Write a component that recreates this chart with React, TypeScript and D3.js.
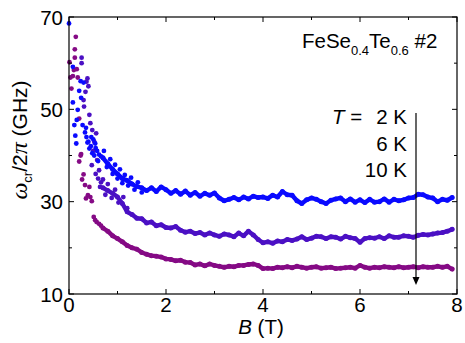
import React from 'react';
import * as d3 from 'd3';

// magnetic field grid (T) for the dense part of each trace
const fields = [
  0.7, 0.8, 0.9, 1.0, 1.1, 1.2, 1.3, 1.4, 1.5, 1.6, 1.7, 1.8, 1.9, 2.0, 2.1, 2.2, 2.3, 2.4, 2.5, 2.6,
  2.7, 2.8, 2.9, 3.0, 3.1, 3.2, 3.3, 3.4, 3.5, 3.6, 3.7, 3.8, 3.9, 4.0, 4.1, 4.2, 4.3, 4.4, 4.5, 4.6,
  4.7, 4.8, 4.9, 5.0, 5.1, 5.2, 5.3, 5.4, 5.5, 5.6, 5.7, 5.8, 5.9, 6.0, 6.1, 6.2, 6.3, 6.4, 6.5, 6.6,
  6.7, 6.8, 6.9, 7.0, 7.1, 7.2, 7.3, 7.4, 7.5, 7.6, 7.7, 7.8, 7.9,
];

// omega_cr / 2pi (GHz)
const t2K = [
  39.5, 38.2, 37.0, 36.0, 35.0, 34.6, 33.8, 33.3, 33.0, 32.4, 33.0, 32.2, 33.2, 32.6, 31.8, 32.4, 31.6, 32.3, 31.4, 32.0,
  31.2, 31.8, 31.4, 31.9, 30.8, 30.2, 30.5, 30.9, 30.4, 31.0, 30.6, 31.2, 30.9, 31.0, 30.7, 31.4, 31.0, 32.2, 31.5, 31.4,
  30.2, 29.6, 30.4, 30.8, 30.5, 30.0, 29.6, 30.3, 30.6, 30.8, 30.0, 30.6, 29.9, 30.4, 29.8, 30.5, 29.9, 30.0, 30.6, 29.9,
  30.5, 30.2, 30.4, 30.8, 30.9, 31.6, 31.5, 31.0, 30.8, 30.0, 30.5, 30.3, 30.9,
];
const t6K = [
  33.0, 32.4, 31.8, 31.0, 29.6, 27.8, 27.2, 26.4, 26.3, 25.4, 25.6, 24.8, 25.0, 24.4, 24.3, 24.6, 23.8, 23.4, 23.6, 23.1,
  23.3, 22.8, 23.2, 22.8, 22.5, 23.0, 22.8, 22.4, 23.2, 22.6, 23.6, 22.8, 21.8, 21.1, 21.3, 21.0, 21.5, 21.3, 21.8, 21.6,
  21.9, 22.4, 21.8, 22.1, 22.5, 22.4, 22.0, 22.4, 22.3, 21.9, 22.5, 22.2, 22.0, 21.2, 22.0, 22.2, 22.1, 22.4, 22.0, 22.6,
  22.3, 22.3, 22.6, 22.5, 22.3, 22.7, 22.9, 22.8, 23.0, 23.2, 23.3, 23.6, 24.0,
];
const t10K = [
  24.3, 23.6, 22.6, 22.0, 21.3, 20.5, 20.0, 19.7, 19.0, 18.6, 18.3, 18.2, 18.0, 17.6, 17.5, 17.2, 17.3, 16.9, 16.8, 16.3,
  16.5, 16.1, 16.5, 16.2, 16.0, 15.8, 16.0, 15.9, 16.2, 16.2, 16.4, 16.5, 16.2, 15.5, 15.6, 15.5, 15.8, 15.7, 15.9, 15.7,
  16.0, 15.8, 15.6, 15.8, 15.9, 15.6, 15.7, 15.8, 15.5, 15.6, 15.7, 15.8, 15.6, 16.2, 15.8, 15.6, 15.8, 15.7, 15.9, 15.8,
  15.7, 15.9, 15.7, 15.8, 15.9, 15.7, 15.9, 15.8, 15.8, 16.0, 15.8, 16.0, 15.4,
];

// scattered low-field points [B, f]
const low2K: [number, number][] = [
  [0.0, 68.6], [0.08, 59.2], [0.24, 56.1], [0.3, 55.8], [0.21, 54.0], [0.25, 52.5], [0.08, 51.5], [0.18, 49.9],
  [0.16, 47.7], [0.11, 46.6], [0.28, 46.6], [0.13, 44.3], [0.15, 42.6], [0.33, 45.0], [0.36, 44.0], [0.4, 43.0],
  [0.45, 42.0], [0.5, 43.5], [0.54, 42.6], [0.42, 41.5], [0.48, 40.5], [0.52, 40.0], [0.58, 41.0], [0.62, 40.2],
  [0.66, 39.8], [0.38, 42.8], [0.46, 44.0], [0.55, 41.6], [0.35, 46.0], [0.6, 38.8],
  [0.72, 41.0], [0.78, 37.5], [0.85, 39.2], [0.9, 36.0], [0.95, 38.0], [1.0, 35.0], [1.05, 37.0], [1.1, 34.0],
  [1.15, 35.8], [1.22, 33.5], [1.28, 35.2], [1.35, 32.6], [1.42, 34.2], [1.5, 32.0],
];
const low6K: [number, number][] = [
  [0.26, 61.2], [0.26, 60.0], [0.38, 56.7], [0.4, 55.0], [0.34, 53.8], [0.31, 50.6], [0.42, 48.8], [0.56, 44.8],
  [0.36, 56.0], [0.3, 52.0], [0.44, 47.0], [0.47, 37.9], [0.6, 35.0], [0.64, 33.2], [0.52, 43.0], [0.58, 39.0],
  [0.62, 36.8], [0.5, 41.0], [0.66, 34.2], [0.55, 36.0], [0.48, 45.5],
  [0.7, 34.8], [0.75, 31.5], [0.8, 33.8], [0.88, 30.8], [0.95, 32.6], [1.02, 29.8], [1.12, 31.0], [1.2, 28.6],
];
const low10K: [number, number][] = [
  [0.14, 65.7], [0.12, 63.0], [0.12, 61.2], [0.16, 58.7], [0.03, 56.9], [0.18, 56.9], [0.05, 54.5], [0.21, 48.0],
  [0.25, 40.3], [0.24, 40.0], [0.21, 38.7], [0.3, 35.9], [0.27, 34.8], [0.33, 33.6], [0.42, 33.2], [0.39, 31.4],
  [0.35, 30.7], [0.47, 30.1], [0.44, 31.0], [0.51, 26.7], [0.57, 25.6], [0.54, 26.0], [0.62, 25.2], [0.66, 24.8],
  [0.1, 58.5], [0.01, 60.2], [0.08, 57.2],
];

const xTicks = [0, 1, 2, 3, 4, 5, 6, 7, 8];
const yTicks = [10, 20, 30, 40, 50, 60, 70];
const tempLabels = ['2 K', '6 K', '10 K'];

const W = 465;
const H = 343;
const m = { left: 69, right: 457, top: 17, bottom: 294 };

export default function App() {
  const x = d3.scaleLinear().domain([0, 8]).range([m.left, m.right]);
  const y = d3.scaleLinear().domain([10, 70]).range([m.bottom, m.top]);

  const series = [
    { vals: t10K, low: low10K, color: '#850a85' },
    { vals: t6K, low: low6K, color: '#4b10c4' },
    { vals: t2K, low: low2K, color: '#0a0aff' },
  ];

  const line = d3
    .line<number>()
    .x((_, i) => x(fields[i]))
    .y((d) => y(d));

  const font = 'Liberation Sans, Arial, sans-serif';
  const fs = 20.5;

  return (
    <svg
      width={W}
      height={H}
      style={{ position: 'absolute', left: 0, top: 0, background: '#fff' }}
      fontFamily={font}
    >
      {/* data */}
      {series.map((s, k) => (
        <g key={k} fill={s.color}>
          <path
            d={line(s.vals) || ''}
            fill="none"
            stroke={s.color}
            strokeWidth={4.4}
            strokeLinejoin="round"
            strokeLinecap="round"
          />
          {s.vals.map((v, i) => (
            <circle key={'h' + i} cx={x(fields[i])} cy={y(v)} r={2.5} />
          ))}
          {s.low.map(([b, v], i) => (
            <circle key={'l' + i} cx={x(b)} cy={y(v)} r={2.4} />
          ))}
        </g>
      ))}

      {/* frame */}
      <rect
        x={m.left}
        y={m.top}
        width={m.right - m.left}
        height={m.bottom - m.top}
        fill="none"
        stroke="#000"
        strokeWidth={1.2}
      />

      {/* x ticks */}
      {xTicks.map((t) => {
        const len = t % 2 === 0 ? 5 : 3;
        return (
          <g key={'x' + t} stroke="#000" strokeWidth={1}>
            <line x1={x(t)} x2={x(t)} y1={m.bottom} y2={m.bottom - len} />
            <line x1={x(t)} x2={x(t)} y1={m.top} y2={m.top + len} />
          </g>
        );
      })}
      {xTicks
        .filter((t) => t % 2 === 0)
        .map((t) => (
          <text key={'xl' + t} x={x(t)} y={312} fontSize={fs} textAnchor="middle">
            {t}
          </text>
        ))}

      {/* y ticks */}
      {yTicks.map((t) => {
        const len = t % 20 === 10 ? 5 : 3;
        return (
          <g key={'y' + t} stroke="#000" strokeWidth={1}>
            <line x1={m.left} x2={m.left + len} y1={y(t)} y2={y(t)} />
            <line x1={m.right} x2={m.right - len} y1={y(t)} y2={y(t)} />
          </g>
        );
      })}
      {yTicks
        .filter((t) => t % 20 === 10)
        .map((t) => (
          <text key={'yl' + t} x={63} y={y(t) + 7.5} fontSize={fs} textAnchor="end">
            {t}
          </text>
        ))}

      {/* axis titles */}
      <text x={(m.left + m.right) / 2 - 2} y={334} fontSize={fs} textAnchor="middle">
        <tspan fontStyle="italic">B</tspan> (T)
      </text>
      <text transform="translate(27,140) rotate(-90)" fontSize={21} textAnchor="middle">
        <tspan fontStyle="italic" fontFamily="Liberation Serif, serif" fontSize={24}>
          ω
        </tspan>
        <tspan fontSize={13} dy={5}>
          cr
        </tspan>
        <tspan dy={-5}>/2</tspan>
        <tspan fontStyle="italic" fontFamily="Liberation Serif, serif" fontSize={24}>
          π
        </tspan>
        <tspan>{'  (GHz)'}</tspan>
      </text>

      {/* sample label */}
      <text x={302} y={48} fontSize={fs}>
        FeSe
        <tspan fontSize={13} dy={7}>
          0.4
        </tspan>
        <tspan dy={-7}>Te</tspan>
        <tspan fontSize={13} dy={7}>
          0.6
        </tspan>
        <tspan dy={-7}> #2</tspan>
      </text>

      {/* temperature labels */}
      <text x={332} y={124} fontSize={fs}>
        <tspan fontStyle="italic">T</tspan> =
      </text>
      {tempLabels.map((t, i) => (
        <text key={t} x={407} y={124 + i * 26.5} fontSize={fs} textAnchor="end">
          {t}
        </text>
      ))}

      {/* arrow */}
      <line x1={416} x2={416} y1={113} y2={280} stroke="#000" strokeWidth={1.2} />
      <path d="M412.5,277 L419.5,277 L416,285 Z" fill="#000" />
    </svg>
  );
}
